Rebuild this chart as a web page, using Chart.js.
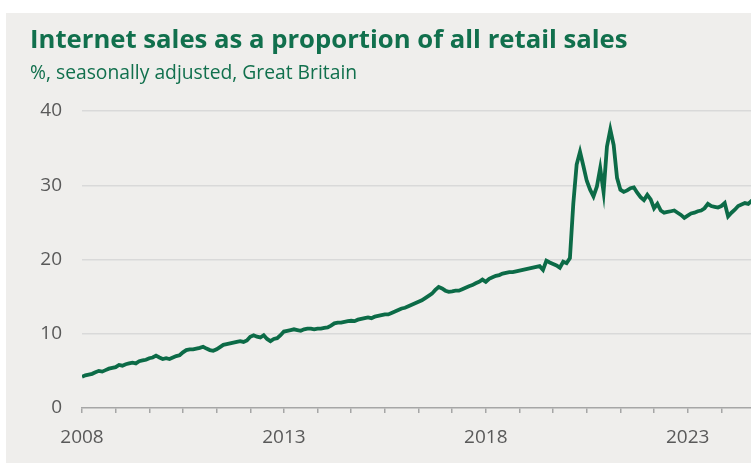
<!DOCTYPE html>
<html>
<head>
<meta charset="utf-8">
<script src="https://cdn.jsdelivr.net/npm/chart.js@4.4.1/dist/chart.umd.min.js"></script>
<style>
    html, body { margin: 0; padding: 0; background: #ffffff; }
    #panel {
        position: absolute; left: 6px; top: 13px;
        width: 745px; height: 450px;
        background: #efeeec;
        overflow: hidden;
    }
    #panel canvas { display: block; }
</style>
</head>
<body>
<div id="panel"><canvas id="onlineShareChart" width="749" height="450"></canvas></div>
<script>
// monthly series, Jan 2008 onwards (index 0 = Jan 2008)
const yearLabels = ['2008', '2013', '2018', '2023'];
const yTicks = [0, 10, 20, 30, 40];

const share2008to2012 = [
    4.2, 4.4, 4.5, 4.6, 4.8, 5.0, 4.9, 5.1, 5.3, 5.4, 5.5, 5.8,
    5.7, 5.9, 6.0, 6.1, 6.0, 6.3, 6.4, 6.5, 6.7, 6.8, 7.05, 6.8,
    6.6, 6.7, 6.6, 6.8, 7.0, 7.1, 7.5, 7.8, 7.9, 7.9, 8.0, 8.1,
    8.25, 8.0, 7.8, 7.7, 7.9, 8.2, 8.5, 8.6, 8.7, 8.8, 8.9, 9.0,
    8.9, 9.1, 9.6, 9.8, 9.6, 9.5, 9.8, 9.3, 9.0, 9.3, 9.4, 9.8
];
const share2013to2017 = [
    10.3, 10.4, 10.5, 10.6, 10.5, 10.4, 10.6, 10.7, 10.7, 10.6, 10.7, 10.7,
    10.8, 10.85, 11.1, 11.4, 11.5, 11.5, 11.6, 11.7, 11.75, 11.7, 11.9, 12.0,
    12.1, 12.2, 12.1, 12.3, 12.4, 12.5, 12.6, 12.6, 12.8, 13.0, 13.2, 13.4,
    13.5, 13.7, 13.9, 14.1, 14.3, 14.5, 14.8, 15.1, 15.4, 15.9, 16.3, 16.1,
    15.8, 15.65, 15.7, 15.8, 15.8, 16.0, 16.2, 16.4, 16.55, 16.8, 17.0, 17.3
];
const share2018to2022 = [
    17.0, 17.4, 17.6, 17.8, 17.9, 18.1, 18.2, 18.3, 18.3, 18.4, 18.5, 18.6,
    18.7, 18.8, 18.9, 19.0, 19.1, 18.6, 19.85, 19.6, 19.4, 19.2, 18.9, 19.7,
    19.5, 20.2, 27.5, 32.8, 34.5, 32.6, 30.6, 29.4, 28.5, 29.8, 32.3, 29.1,
    35.2, 37.5, 35.4, 31.0, 29.4, 29.1, 29.3, 29.6, 29.7, 29.0, 28.4, 28.0,
    28.7, 28.1, 26.9, 27.5, 26.6, 26.3, 26.4, 26.5, 26.6, 26.3, 26.0, 25.6
];
const share2023on = [
    25.9, 26.2, 26.3, 26.5, 26.6, 26.9, 27.5, 27.2, 27.1, 27.0, 27.2, 27.6,
    25.8, 26.3, 26.7, 27.2, 27.4, 27.6, 27.5, 27.9, 28.0
];

const internetShare = [...share2008to2012, ...share2013to2017, ...share2018to2022, ...share2023on];

const green = '#0c6b47';
const axisGrey = '#a6a6a6';
const labelGrey = '#595959';

const ctx = document.getElementById('onlineShareChart');

new Chart(ctx, {
    type: 'line',
    data: {
        datasets: [{
            label: 'Internet sales share',
            data: internetShare.map((v, i) => ({ x: i, y: v })),
            borderColor: green,
            borderWidth: 3.8,
            pointRadius: 0,
            tension: 0,
            fill: false
        }]
    },
    options: {
        responsive: false,
        animation: false,
        layout: { padding: { left: 24, right: 0, top: 0, bottom: 0 } },
        plugins: {
            legend: { display: false },
            tooltip: { enabled: false },
            title: {
                display: true,
                text: 'Internet sales as a proportion of all retail sales',
                align: 'start',
                color: '#11704d',
                font: { family: 'Open Sans', size: 25.7, weight: 'bold' },
                padding: { top: 12, bottom: 6 }
            },
            subtitle: {
                display: true,
                text: '%, seasonally adjusted, Great Britain',
                align: 'start',
                color: '#11704d',
                font: { family: 'Open Sans', size: 19.3 },
                padding: { top: 0, bottom: 26 }
            }
        },
        scales: {
            x: {
                type: 'linear',
                min: 0,
                max: internetShare.length - 1,
                afterFit: (scale) => {
                    scale.height = 55;
                    scale.paddingLeft = 0;
                    scale.paddingRight = 0;
                },
                grid: {
                    drawOnChartArea: false,
                    drawTicks: true,
                    tickLength: 5,
                    color: axisGrey,
                    lineWidth: 1.5
                },
                border: { display: true, color: axisGrey, width: 1.5 },
                ticks: {
                    stepSize: 10,
                    autoSkip: false,
                    maxRotation: 0,
                    padding: 13,
                    color: labelGrey,
                    font: { family: 'Open Sans', size: 19 },
                    callback: function (value) {
                        if (value % 60 !== 0) return '';
                        return yearLabels[value / 60] || '';
                    }
                }
            },
            y: {
                min: 0,
                max: 40,
                afterFit: (scale) => { scale.width = 52; },
                afterBuildTicks: (scale) => { scale.ticks = yTicks.map(v => ({ value: v })); },
                grid: {
                    drawTicks: false,
                    color: (c) => c.tick && c.tick.value === 0 ? 'rgba(0,0,0,0)' : '#d9d9d9',
                    lineWidth: 1.5
                },
                border: { display: false },
                ticks: {
                    padding: 20,
                    color: labelGrey,
                    font: { family: 'Open Sans', size: 19 }
                }
            }
        }
    }
});
</script>
</body>
</html>
